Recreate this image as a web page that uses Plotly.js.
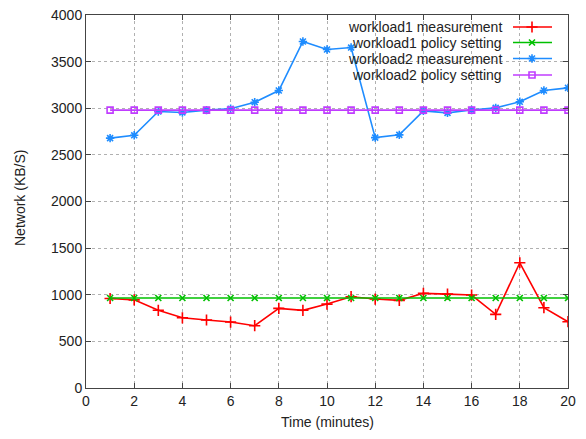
<!DOCTYPE html>
<html>
<head>
<meta charset="utf-8">
<script src="https://cdn.plot.ly/plotly-3.0.1.min.js"></script>
<style>
html,body{margin:0;padding:0;background:#fff;}
#chart{width:586px;height:439px;}
</style>
</head>
<body>
<div id="chart"></div>
<script>
// ---- data ----
const time = [1,2,3,4,5,6,7,8,9,10,11,12,13,14,15,16,17,18,19,20];
const w1Measurement = [960,945,833,753,729,707,668,854,833,900,979,954,940,1015,1007,997,790,1343,861,711];
const w1Policy = [965,965,965,965,965,965,965,965,965,965,965,965,965,965,965,965,965,965,965,965];
const w2Measurement = [2680,2710,2965,2955,2980,2995,3065,3190,3716,3630,3651,2685,2715,2972,2950,2982,3004,3069,3190,3218];
const w2Policy = [2980,2980,2980,2980,2980,2980,2980,2980,2980,2980,2980,2980,2980,2980,2980,2980,2980,2980,2980,2980];
const seriesNames = ["workload1 measurement","workload1 policy setting","workload2 measurement","workload2 policy setting"];
const xTicks = [0,2,4,6,8,10,12,14,16,18,20];
const yTicks = [0,500,1000,1500,2000,2500,3000,3500,4000];
const xTitle = "Time (minutes)";
const yTitle = "Network (KB/S)";

// ---- styles ----
const colors = ["#ff0000","#00c000","#1e8cff","#c03cff"];
const symbols = ["cross-thin-open","x-thin-open","asterisk-open","square-open"];
const sizes = [8,6,7,6];
const series = [w1Measurement, w1Policy, w2Measurement, w2Policy];
const FONT = "Liberation Sans, Arial, sans-serif";

const L = 86, R = 568, T = 15, B = 388;

const traces = series.map((ys, i) => ({
  x: time, y: ys, type: "scatter", mode: "lines+markers",
  name: seriesNames[i],
  line: {color: colors[i], width: 1.6},
  marker: {symbol: symbols[i], size: sizes[i], color: colors[i], line: {color: colors[i], width: 1.6}},
  showlegend: false, xaxis: "x", yaxis: "y", hoverinfo: "skip"
}));

// custom gnuplot-style key (text right, sample on the right), drawn in pixel coords on overlay axes
const keyRows = [27, 42.5, 58.5, 75];
const sampleX0 = 513, sampleXm = 532, sampleX1 = 552, textRight = 504;
const annotations = [];
seriesNames.forEach((nm, i) => {
  traces.push({
    x: [sampleX0, sampleX1], y: [keyRows[i], keyRows[i]],
    xaxis: "x2", yaxis: "y2", type: "scatter", mode: "lines",
    line: {color: colors[i], width: 1.6},
    showlegend: false, hoverinfo: "skip"
  });
  traces.push({
    x: [sampleXm], y: [keyRows[i]],
    xaxis: "x2", yaxis: "y2", type: "scatter", mode: "markers",
    marker: {symbol: symbols[i], size: sizes[i], color: colors[i], line: {color: colors[i], width: 1.6}},
    showlegend: false, hoverinfo: "skip"
  });
  annotations.push({
    xref: "x2", yref: "y2", x: textRight, y: keyRows[i], text: nm,
    showarrow: false, xanchor: "right", yanchor: "middle",
    font: {family: FONT, size: 14, color: "#222"}
  });
});
// axis titles placed in pixel positions
annotations.push({
  xref: "paper", yref: "paper", x: (327 - L) / (R - L), y: (B - 422) / (B - T), text: xTitle,
  showarrow: false, xanchor: "center", yanchor: "middle",
  font: {family: FONT, size: 14, color: "#222"}
});
annotations.push({
  xref: "paper", yref: "paper", x: (20 - L) / (R - L), y: (B - 198) / (B - T), text: yTitle,
  showarrow: false, xanchor: "center", yanchor: "middle", textangle: -90,
  font: {family: FONT, size: 14, color: "#222"}
});

const layout = {
  width: 586, height: 439,
  margin: {l: L, r: 586 - R, t: T, b: 439 - B, pad: 0},
  paper_bgcolor: "#fff", plot_bgcolor: "#fff",
  showlegend: false,
  font: {family: FONT, size: 14, color: "#222"},
  xaxis: {
    range: [0, 20], tickvals: xTicks, ticktext: xTicks.map(String),
    showgrid: true, gridcolor: "#b0b0b0", griddash: "dot", gridwidth: 1,
    zeroline: false, showline: true, linecolor: "#444", linewidth: 1, mirror: "ticks",
    ticks: "inside", ticklen: 5, tickcolor: "#444",
    tickfont: {family: FONT, size: 14, color: "#222"}
  },
  yaxis: {
    range: [0, 4000], tickvals: yTicks, ticktext: yTicks.map(String),
    showgrid: true, gridcolor: "#b0b0b0", griddash: "dot", gridwidth: 1,
    zeroline: false, showline: true, linecolor: "#444", linewidth: 1, mirror: "ticks",
    ticks: "inside", ticklen: 5, tickcolor: "#444",
    tickfont: {family: FONT, size: 14, color: "#222"}
  },
  xaxis2: {overlaying: "x", range: [L, R], visible: false, fixedrange: true},
  yaxis2: {overlaying: "y", range: [B, T], visible: false, fixedrange: true},
  shapes: [{
    type: "rect", xref: "paper", yref: "paper", x0: (313 - L) / (R - L), x1: 1, y0: (B - 83) / (B - T), y1: 1,
    fillcolor: "#fff", line: {width: 0}, layer: "between"
  }],
  annotations: annotations
};

Plotly.newPlot("chart", traces, layout, {displayModeBar: false, staticPlot: true});
</script>
</body>
</html>
